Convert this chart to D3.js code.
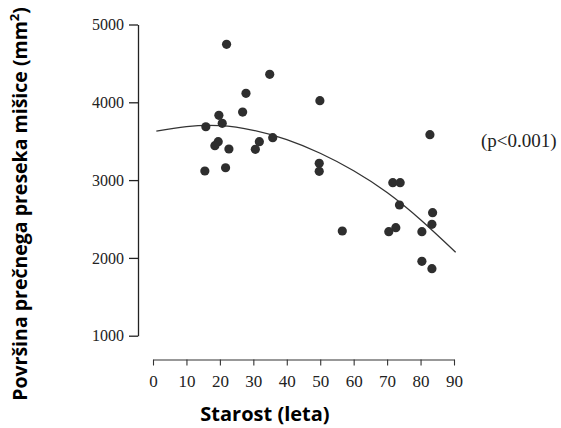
<!DOCTYPE html>
<html>
<head>
<meta charset="utf-8">
<script src="https://cdn.jsdelivr.net/npm/d3@7"></script>
<style>
  body { margin: 0; background: #fff; }
</style>
</head>
<body>
<div id="chart"></div>
<script>
// Data
const ages = [22.0, 34.9, 27.8, 26.8, 19.7, 20.7, 15.8, 35.8, 19.5, 18.5,
              22.7, 31.8, 30.6, 15.5, 21.7, 49.9, 49.7, 49.7, 82.8, 71.7,
              73.9, 73.7, 56.6, 70.5, 72.6, 80.4, 83.6, 83.4, 80.4, 83.4];
const areas = [4745, 4360, 4116, 3875, 3833, 3730, 3686, 3545, 3494, 3442,
               3400, 3494, 3396, 3117, 3159, 4021, 3216, 3113, 3584, 2967,
               2967, 2680, 2346, 2337, 2388, 2337, 2581, 2432, 1956, 1861];

// Fitted curve
const fitAges = [1, 10, 20, 30, 40, 50, 60, 70, 80, 90.5];
const fitValues = [3630, 3688, 3700, 3640, 3520, 3345, 3120, 2840, 2490, 2072];

const xTicks = [0, 10, 20, 30, 40, 50, 60, 70, 80, 90];
const yTicks = [1000, 2000, 3000, 4000, 5000];
const pLabel = "(p<0.001)";

const width = 561;
const height = 428;

const x = d3.scaleLinear().domain([0, 90]).range([153, 454]);
const y = d3.scaleLinear().domain([1000, 5000]).range([335.7, 24.5]);

const svg = d3.select("#chart")
    .append("svg")
        .attr("width", width)
        .attr("height", height)
        .attr("viewBox", [0, 0, width, height]);

// y axis (offset to the left of x = 0)
svg.append("g")
    .attr("transform", "translate(138,0)")
    .call(d3.axisLeft(y).tickValues(yTicks).tickFormat(d3.format("d"))
        .tickSize(9).tickSizeOuter(0).tickPadding(5))
    .call(g => g.selectAll("path, line").attr("stroke", "#222").attr("stroke-width", 1.3))
    .call(g => g.selectAll("text")
        .attr("font-family", "'Liberation Serif', serif")
        .attr("font-size", 16)
        .attr("fill", "#222"));

// x axis (below the plot)
svg.append("g")
    .attr("transform", "translate(0,359.5)")
    .call(d3.axisBottom(x).tickValues(xTicks).tickFormat(d3.format("d"))
        .tickSize(6).tickSizeOuter(0).tickPadding(9))
    .call(g => g.selectAll("path, line").attr("stroke", "#333").attr("stroke-width", 1.1))
    .call(g => g.selectAll("text")
        .attr("font-family", "'Liberation Serif', serif")
        .attr("font-size", 17)
        .attr("fill", "#222"));

// fitted curve
svg.append("path")
    .datum(fitAges.map((a, i) => [a, fitValues[i]]))
    .attr("fill", "none")
    .attr("stroke", "#333")
    .attr("stroke-width", 1.3)
    .attr("d", d3.line().x(d => x(d[0])).y(d => y(d[1])).curve(d3.curveNatural));

// points
svg.append("g")
    .attr("fill", "#2e2e2e")
    .selectAll()
    .data(ages.map((a, i) => [a, areas[i]]))
    .join("circle")
    .attr("cx", d => x(d[0]))
    .attr("cy", d => y(d[1]))
    .attr("r", 4.6);

// p value
svg.append("text")
    .attr("x", 481)
    .attr("y", 147)
    .attr("font-family", "'Liberation Serif', serif")
    .attr("font-size", 19)
    .attr("fill", "#222")
    .text(pLabel);

// axis titles
svg.append("text")
    .attr("x", 265)
    .attr("y", 421)
    .attr("text-anchor", "middle")
    .attr("font-family", "'Open Sans', sans-serif")
    .attr("font-weight", "bold")
    .attr("font-size", 20)
    .attr("fill", "#000")
    .text("Starost (leta)");

svg.append("text")
    .attr("transform", "translate(27,204) rotate(-90)")
    .attr("text-anchor", "middle")
    .attr("font-family", "'Open Sans', sans-serif")
    .attr("font-weight", "bold")
    .attr("font-size", 19.5)
    .attr("fill", "#000")
    .call(t => t.append("tspan").text("Površina prečnega preseka mišice (mm"))
    .call(t => t.append("tspan").attr("dy", -8).attr("font-size", 13).text("2"))
    .call(t => t.append("tspan").attr("dy", 8).text(")"));
</script>
</body>
</html>
